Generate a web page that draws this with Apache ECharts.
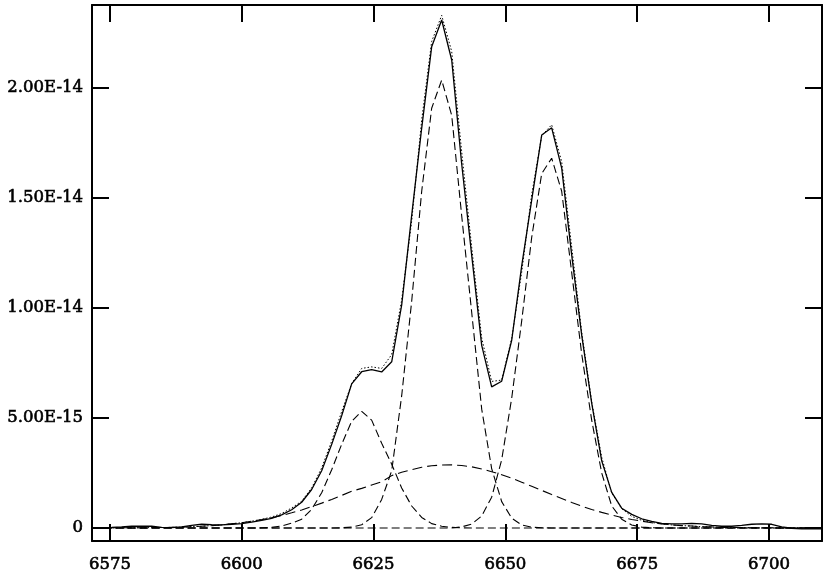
<!DOCTYPE html>
<html>
<head>
<meta charset="utf-8">
<script src="https://cdn.jsdelivr.net/npm/echarts@6/dist/echarts.min.js"></script>
<style>
html,body{margin:0;padding:0;background:#fff;}
#chart{width:830px;height:574px;}
</style>
</head>
<body>
<div id="chart"></div>
<script>
// Wavelength (Angstrom)
const wavelength = [
 6571.53,6573.43,6575.33,6577.22,6579.12,6581.02,6582.91,6584.81,6586.71,6588.60,
 6590.50,6592.40,6594.29,6596.19,6598.09,6599.98,6601.88,6603.78,6605.67,6607.57,
 6609.47,6611.37,6613.26,6615.16,6617.06,6618.95,6620.85,6622.75,6624.64,6626.54,
 6628.44,6630.33,6632.23,6634.13,6636.02,6637.92,6639.82,6641.71,6643.61,6645.51,
 6647.40,6649.30,6651.20,6653.09,6654.99,6656.89,6658.78,6660.68,6662.58,6664.48,
 6666.37,6668.27,6670.17,6672.06,6673.96,6675.86,6677.75,6679.65,6681.55,6683.44,
 6685.34,6687.24,6689.13,6691.03,6692.93,6694.82,6696.72,6698.62,6700.51,6702.41,
 6704.31,6706.20,6708.10,6710.00
];
// Fluxes in units of 1e-15
const observed = [
 0.01,0.02,0.03,0.05,0.08,0.09,0.08,0.03,0.02,0.05,
 0.12,0.17,0.15,0.14,0.17,0.20,0.27,0.35,0.44,0.60,
 0.83,1.17,1.75,2.60,3.80,5.10,6.55,7.10,7.20,7.09,
 7.55,10.12,14.20,18.17,21.86,23.08,21.26,16.55,12.40,8.30,
 6.41,6.67,8.53,11.90,14.90,17.85,18.18,16.35,12.40,8.75,
 5.67,3.05,1.62,0.90,0.62,0.42,0.30,0.21,0.19,0.19,
 0.21,0.19,0.12,0.08,0.08,0.12,0.17,0.19,0.17,0.05,
 -0.01,-0.04,-0.04,-0.04
];
const fitTotal = [
 0.00,0.00,0.01,0.01,0.01,0.01,0.02,0.02,0.03,0.04,
 0.06,0.08,0.11,0.14,0.19,0.24,0.31,0.39,0.50,0.66,
 0.91,1.22,1.82,2.73,3.95,5.29,6.56,7.25,7.32,7.25,
 7.88,10.35,13.95,18.54,22.10,23.29,21.65,17.10,12.76,8.63,
 6.66,6.72,8.61,11.62,15.14,17.82,18.32,16.64,12.76,8.89,
 5.74,3.21,1.59,0.88,0.53,0.35,0.25,0.19,0.14,0.11,
 0.09,0.06,0.05,0.03,0.02,0.02,0.01,0.01,0.01,0.00,
 0,0,0,0
];
const compA = [
 0,0,0,0,0,0,0,0,0,0,
 0,0,0,0,0,0,0,0.01,0.03,0.09,
 0.22,0.40,0.85,1.60,2.65,3.80,4.85,5.30,4.90,3.85,
 2.90,1.82,1.00,0.48,0.20,0.08,0.03,0.01,0,0,
 0,0,0,0,0,0,0,0,0,0,
 0,0,0,0,0,0,0,0,0,0,
 0,0,0,0,0,0,0,0,0,0,
 0,0,0,0
];
const compB = [
 0,0,0,0,0,0,0,0,0,0,
 0,0,0,0,0,0,0,0,0,0,
 0,0,0,0,0,0.01,0.04,0.15,0.47,1.30,
 2.60,6.00,10.30,15.30,19.07,20.35,18.75,14.20,9.80,5.40,
 2.70,1.20,0.45,0.14,0.04,0.01,0,0,0,0,
 0,0,0,0,0,0,0,0,0,0,
 0,0,0,0,0,0,0,0,0,0,
 0,0,0,0
];
const compC = [
 0,0,0,0,0,0,0,0,0,0,
 0,0,0,0,0,0,0,0,0,0,
 0,0,0,0,0,0,0,0,0,0,
 0,0,0,0,0,0,0,0.05,0.18,0.55,
 1.40,3.10,5.90,9.40,13.20,16.10,16.80,15.30,11.60,7.90,
 4.90,2.50,1.00,0.40,0.14,0.04,0.01,0,0,0,
 0,0,0,0,0,0,0,0,0,0,
 0,0,0,0
];
const compD = [
 0.00,0.00,0.01,0.01,0.01,0.01,0.02,0.02,0.03,0.04,
 0.06,0.08,0.11,0.14,0.19,0.24,0.31,0.38,0.47,0.57,
 0.69,0.82,0.97,1.13,1.30,1.48,1.67,1.80,1.95,2.10,
 2.38,2.53,2.65,2.76,2.83,2.86,2.87,2.84,2.78,2.68,
 2.56,2.42,2.26,2.08,1.90,1.71,1.52,1.34,1.16,0.99,
 0.84,0.71,0.59,0.48,0.39,0.31,0.24,0.19,0.14,0.11,
 0.09,0.06,0.05,0.03,0.02,0.02,0.01,0.01,0.01,0.00,
 0,0,0,0
];
const xTicks = [6575, 6600, 6625, 6650, 6675, 6700];
const xTickLabels = ['6575', '6600', '6625', '6650', '6675', '6700'];
const yTicks = [0, 5, 10, 15, 20];
const yTickLabels = ['0', '5.00E-15', '1.00E-14', '1.50E-14', '2.00E-14'];

const XMIN = 6571.6, XMAX = 6710.05, YMIN = -0.59, YMAX = 23.76;

const FONT = '"DejaVu Serif", serif';
function pairs(arr){ return wavelength.map((x,i)=>[x, arr[i]]); }
function lbl(ticks, labels){ return v => { const i = ticks.findIndex(t => Math.abs(t - v) < 1e-6); return i >= 0 ? labels[i] : ''; }; }

const axisLine = {show:true, onZero:false, lineStyle:{color:'#000', width:2}};
function tick(vals){ return {show:true, inside:true, length:17, customValues:vals, lineStyle:{color:'#000', width:2}}; }

const chart = echarts.init(document.getElementById('chart'), null, {renderer:'canvas'});
const dashed = {color:'#000', width:1.1, type:[8,4]};
const labelStyle = {fontFamily:FONT, fontSize:16.5, fontWeight:'normal', color:'#000', textBorderColor:'#000', textBorderWidth:0.6};
const option = {
  animation:false,
  backgroundColor:'#fff',
  grid:{left:92, right:8, top:5, bottom:33, containLabel:false},
  xAxis:[
    {type:'value', position:'bottom', min:XMIN, max:XMAX, axisLine, axisTick:tick(xTicks),
     axisLabel:Object.assign({customValues:xTicks, formatter:lbl(xTicks,xTickLabels), margin:15}, labelStyle),
     splitLine:{show:false}},
    {type:'value', position:'top', min:XMIN, max:XMAX, axisLine, axisTick:tick(xTicks),
     axisLabel:{show:false}, splitLine:{show:false}}
  ],
  yAxis:[
    {type:'value', position:'left', min:YMIN, max:YMAX, axisLine, axisTick:tick(yTicks),
     axisLabel:Object.assign({customValues:yTicks, formatter:lbl(yTicks,yTickLabels), margin:9}, labelStyle),
     splitLine:{show:false}},
    {type:'value', position:'right', min:YMIN, max:YMAX, axisLine, axisTick:tick(yTicks),
     axisLabel:{show:false}, splitLine:{show:false}}
  ],
  series:[
    {type:'line', data:pairs(compA), showSymbol:false, lineStyle:dashed, z:2},
    {type:'line', data:pairs(compB), showSymbol:false, lineStyle:dashed, z:2},
    {type:'line', data:pairs(compC), showSymbol:false, lineStyle:dashed, z:2},
    {type:'line', data:pairs(compD), showSymbol:false, lineStyle:{color:'#000', width:1.1, type:[10,5]}, z:2},
    {type:'line', data:pairs(fitTotal), showSymbol:false, lineStyle:{color:'#000', width:1, type:[1.5,2]}, z:3},
    {type:'line', data:pairs(observed), showSymbol:false, lineStyle:{color:'#000', width:1.3}, z:4}
  ]
};
chart.setOption(option);
</script>
</body>
</html>
